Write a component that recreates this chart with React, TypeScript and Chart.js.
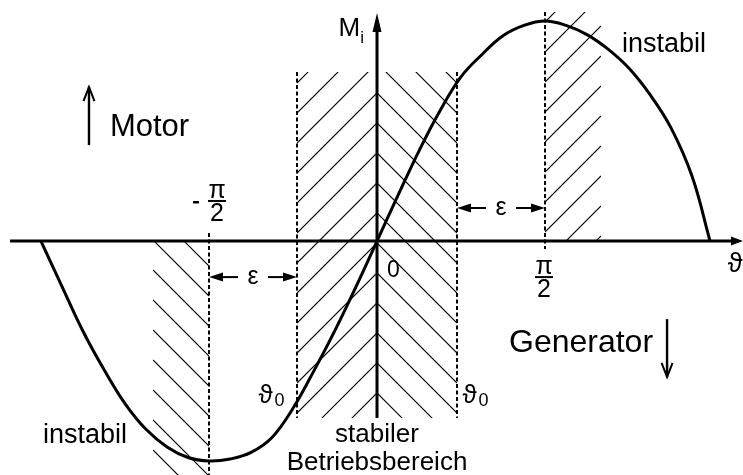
import React, { useEffect, useRef } from "react";
import { Chart, registerables } from "chart.js";

Chart.register(...registerables);

const HALF_PI = Math.PI / 2;

// Load angle ϑ in rad (steps of π/16) and internal torque M_i relative to the pull-out torque
const theta = [
  -3.142, -2.945, -2.749, -2.553, -2.356, -2.16, -1.963, -1.767, -1.571, -1.374, -1.178, -0.982,
  -0.785, -0.589, -0.393, -0.196, 0, 0.196, 0.393, 0.589, 0.785, 0.982, 1.178, 1.374, 1.571,
  1.767, 1.963, 2.16, 2.356, 2.553, 2.749, 2.945, 3.114,
];
const torque = [
  0, -0.207, -0.41, -0.584, -0.739, -0.856, -0.936, -0.984, -1.0, -0.991, -0.961, -0.893,
  -0.76, -0.589, -0.406, -0.207, 0, 0.207, 0.41, 0.592, 0.746, 0.848, 0.933, 0.98, 1.0,
  0.98, 0.938, 0.872, 0.785, 0.665, 0.514, 0.295, 0,
];

// Angle ticks on the ϑ axis
const tickValues = [-HALF_PI, 0, HALF_PI];
const tickLabels = ["-π/2", "0", "π/2"];

// Stable operating range ±ϑ0 and the unstable bands beyond ±π/2
const THETA_0 = 0.748;
const STABLE_TOP = 0.768;
const STABLE_BOTTOM = -0.805;
const UNSTABLE_EDGE = (2 * Math.PI) / 3;

const X_MIN = -3.525;
const X_MAX = 3.422;
const Y_MIN = -1.0636;
const Y_MAX = 1.0955;

const FONT = '"Liberation Sans", Arial, "DejaVu Sans", sans-serif';

function hatch(
  ctx: CanvasRenderingContext2D,
  left: number,
  top: number,
  right: number,
  bottom: number,
  dir: number,
  ax: number,
  ay: number,
  pitch: number
) {
  ctx.save();
  ctx.beginPath();
  ctx.rect(left, top, right - left, bottom - top);
  ctx.clip();
  ctx.beginPath();
  const span = right - left + (bottom - top);
  const kMin = Math.floor((top - ay - span) / pitch) - 1;
  const kMax = Math.ceil((bottom - ay + span) / pitch) + 1;
  for (let k = kMin; k <= kMax; k++) {
    const c = ay + k * pitch;
    ctx.moveTo(left, c - dir * (left - ax));
    ctx.lineTo(right, c - dir * (right - ax));
  }
  ctx.lineWidth = 1.1;
  ctx.strokeStyle = "#000";
  ctx.stroke();
  ctx.restore();
}

function dashed(ctx: CanvasRenderingContext2D, x: number, y1: number, y2: number) {
  ctx.save();
  ctx.setLineDash([4, 2.5]);
  ctx.lineWidth = 2;
  ctx.strokeStyle = "#000";
  ctx.beginPath();
  ctx.moveTo(x, y1);
  ctx.lineTo(x, y2);
  ctx.stroke();
  ctx.restore();
}

function solidArrow(ctx: CanvasRenderingContext2D, x1: number, y1: number, x2: number, y2: number, len: number, half: number, width: number) {
  const a = Math.atan2(y2 - y1, x2 - x1);
  const bx = x2 - len * Math.cos(a);
  const by = y2 - len * Math.sin(a);
  ctx.lineWidth = width;
  ctx.beginPath();
  ctx.moveTo(x1, y1);
  ctx.lineTo(bx, by);
  ctx.stroke();
  ctx.beginPath();
  ctx.moveTo(x2, y2);
  ctx.lineTo(bx + half * Math.sin(a), by - half * Math.cos(a));
  ctx.lineTo(bx - half * Math.sin(a), by + half * Math.cos(a));
  ctx.closePath();
  ctx.fill();
}

function openArrow(ctx: CanvasRenderingContext2D, x: number, yFrom: number, yTip: number) {
  const d = yTip < yFrom ? 1 : -1;
  ctx.lineWidth = 2.4;
  ctx.lineCap = "butt";
  ctx.beginPath();
  ctx.moveTo(x, yFrom);
  ctx.lineTo(x, yTip);
  ctx.stroke();
  ctx.lineWidth = 2;
  ctx.beginPath();
  ctx.moveTo(x - 5.5, yTip + d * 14);
  ctx.lineTo(x, yTip);
  ctx.lineTo(x + 5.5, yTip + d * 14);
  ctx.stroke();
}

function text(ctx: CanvasRenderingContext2D, s: string, x: number, y: number, size: number, align: CanvasTextAlign = "left") {
  ctx.font = `${size}px ${FONT}`;
  ctx.textAlign = align;
  ctx.textBaseline = "alphabetic";
  ctx.fillText(s, x, y);
}

const diagram = {
  id: "diagram",
  beforeDatasetsDraw(chart: any) {
    const { ctx } = chart;
    const xs = chart.scales.x;
    const ys = chart.scales.y;
    const X = (v: number) => xs.getPixelForValue(v);
    const Y = (v: number) => ys.getPixelForValue(v);
    const x0 = X(0);
    const y0 = Y(0);
    const pitch = 30;

    // hatching: stable band (chevrons meeting on the M axis) and unstable bands
    hatch(ctx, X(-THETA_0), Y(STABLE_TOP), x0, Y(STABLE_BOTTOM), 1, x0, y0 + 2, pitch);
    hatch(ctx, x0, Y(STABLE_TOP), X(THETA_0), Y(STABLE_BOTTOM), -1, x0, y0 + 2, pitch);
    hatch(ctx, X(-UNSTABLE_EDGE), y0, X(-HALF_PI), Y(Y_MIN), -1, X(-HALF_PI), y0 + 25, pitch);
    hatch(ctx, X(HALF_PI), Y(1.041), X(UNSTABLE_EDGE), y0, 1, X(HALF_PI), y0 + 21, pitch);

    // dashed boundaries
    dashed(ctx, X(-HALF_PI), Y(0.036), Y(Y_MIN));
    dashed(ctx, X(-THETA_0), Y(STABLE_TOP), Y(STABLE_BOTTOM));
    dashed(ctx, X(THETA_0), Y(STABLE_TOP), Y(STABLE_BOTTOM));
    dashed(ctx, X(HALF_PI), Y(1.041), Y(-0.036));

    // axes
    ctx.save();
    ctx.strokeStyle = "#000";
    ctx.fillStyle = "#000";
    solidArrow(ctx, X(-3.431), y0, X(X_MAX), y0, 12, 4.5, 3);
    solidArrow(ctx, x0, Y(STABLE_BOTTOM), x0, Y(1.036), 19, 4.5, 3);
    ctx.restore();
  },
  afterDatasetsDraw(chart: any) {
    const { ctx } = chart;
    const xs = chart.scales.x;
    const ys = chart.scales.y;
    const X = (v: number) => xs.getPixelForValue(v);
    const Y = (v: number) => ys.getPixelForValue(v);
    ctx.save();
    ctx.fillStyle = "#000";
    ctx.strokeStyle = "#000";

    // axis titles
    text(ctx, "M", X(-0.36), Y(0.932), 26);
    ctx.font = `26px ${FONT}`;
    const mw = ctx.measureText("M").width;
    text(ctx, "i", X(-0.36) + mw, Y(0.932) + 7, 17);
    text(ctx, "ϑ", X(3.28), Y(-0.141), 27);

    // ticks on the ϑ axis
    tickValues.forEach((v, i) => {
      const label = tickLabels[i];
      if (!label.includes("/")) {
        text(ctx, label, X(0.094), Y(-0.164), 23);
        return;
      }
      const neg = label.startsWith("-");
      const [num, den] = label.replace("-", "").split("/");
      const barY = neg ? Y(0.182) : Y(-0.164);
      const cx = neg ? X(v) + 8 : X(v) - 1;
      ctx.fillRect(cx - 9, barY - 1, 18, 2);
      text(ctx, num, cx, barY - 3, 25, "center");
      text(ctx, den, cx, barY + 20, 25, "center");
      if (neg) ctx.fillRect(X(v) - 16, barY, 6, 2.5);
    });

    // ε spacing between π/2 and the stable limit
    const epsArrows = [
      { a: X(-HALF_PI), b: X(-THETA_0), y: Y(-0.164) },
      { a: X(THETA_0), b: X(HALF_PI), y: Y(0.15) },
    ];
    epsArrows.forEach(({ a, b, y }) => {
      const m = (a + b) / 2;
      solidArrow(ctx, m - 15, y, a, y, 14, 4.5, 2);
      solidArrow(ctx, m + 15, y, b, y, 14, 4.5, 2);
      ctx.font = `25px ${FONT}`;
      ctx.textAlign = "center";
      ctx.textBaseline = "middle";
      ctx.fillText("ε", m, y);
    });

    // stable limit angles ϑ0
    [X(-1.108), X(0.8)].forEach((px) => {
      text(ctx, "ϑ", px, Y(-0.736), 26);
      text(ctx, "0", px + 16, Y(-0.736) + 3, 18);
    });

    // region labels
    text(ctx, "Motor", X(-2.497), Y(0.477), 31);
    openArrow(ctx, X(-2.693), Y(0.436), Y(0.7));
    text(ctx, "Generator", X(1.234), Y(-0.505), 32);
    openArrow(ctx, X(2.712), Y(-0.355), Y(-0.618));
    text(ctx, "instabil", X(2.291), Y(0.859), 27);
    text(ctx, "instabil", X(-3.123), Y(-0.918), 27);
    text(ctx, "stabiler", X(0), Y(-0.914), 26, "center");
    text(ctx, "Betriebsbereich", X(0), Y(-1.041), 26, "center");
    ctx.restore();
  },
};

export default function App() {
  const ref = useRef<HTMLCanvasElement>(null);
  useEffect(() => {
    const chart = new Chart(ref.current as HTMLCanvasElement, {
      type: "line",
      data: {
        datasets: [
          {
            data: theta.map((t, i) => ({ x: t, y: torque[i] })),
            borderColor: "#000",
            borderWidth: 3,
            pointRadius: 0,
            tension: 0.4,
            fill: false,
          },
        ],
      },
      options: {
        responsive: false,
        animation: false,
        devicePixelRatio: 1,
        events: [],
        layout: { padding: 0 },
        plugins: { legend: { display: false }, tooltip: { enabled: false } },
        scales: {
          x: { type: "linear", min: X_MIN, max: X_MAX, display: false },
          y: { type: "linear", min: Y_MIN, max: Y_MAX, display: false },
        },
      },
      plugins: [diagram],
    } as any);
    return () => chart.destroy();
  }, []);
  return (
    <div style={{ position: "fixed", left: 0, top: 0, width: 743, height: 475, background: "#fff" }}>
      <canvas ref={ref} width={743} height={475} style={{ display: "block" }} />
    </div>
  );
}
